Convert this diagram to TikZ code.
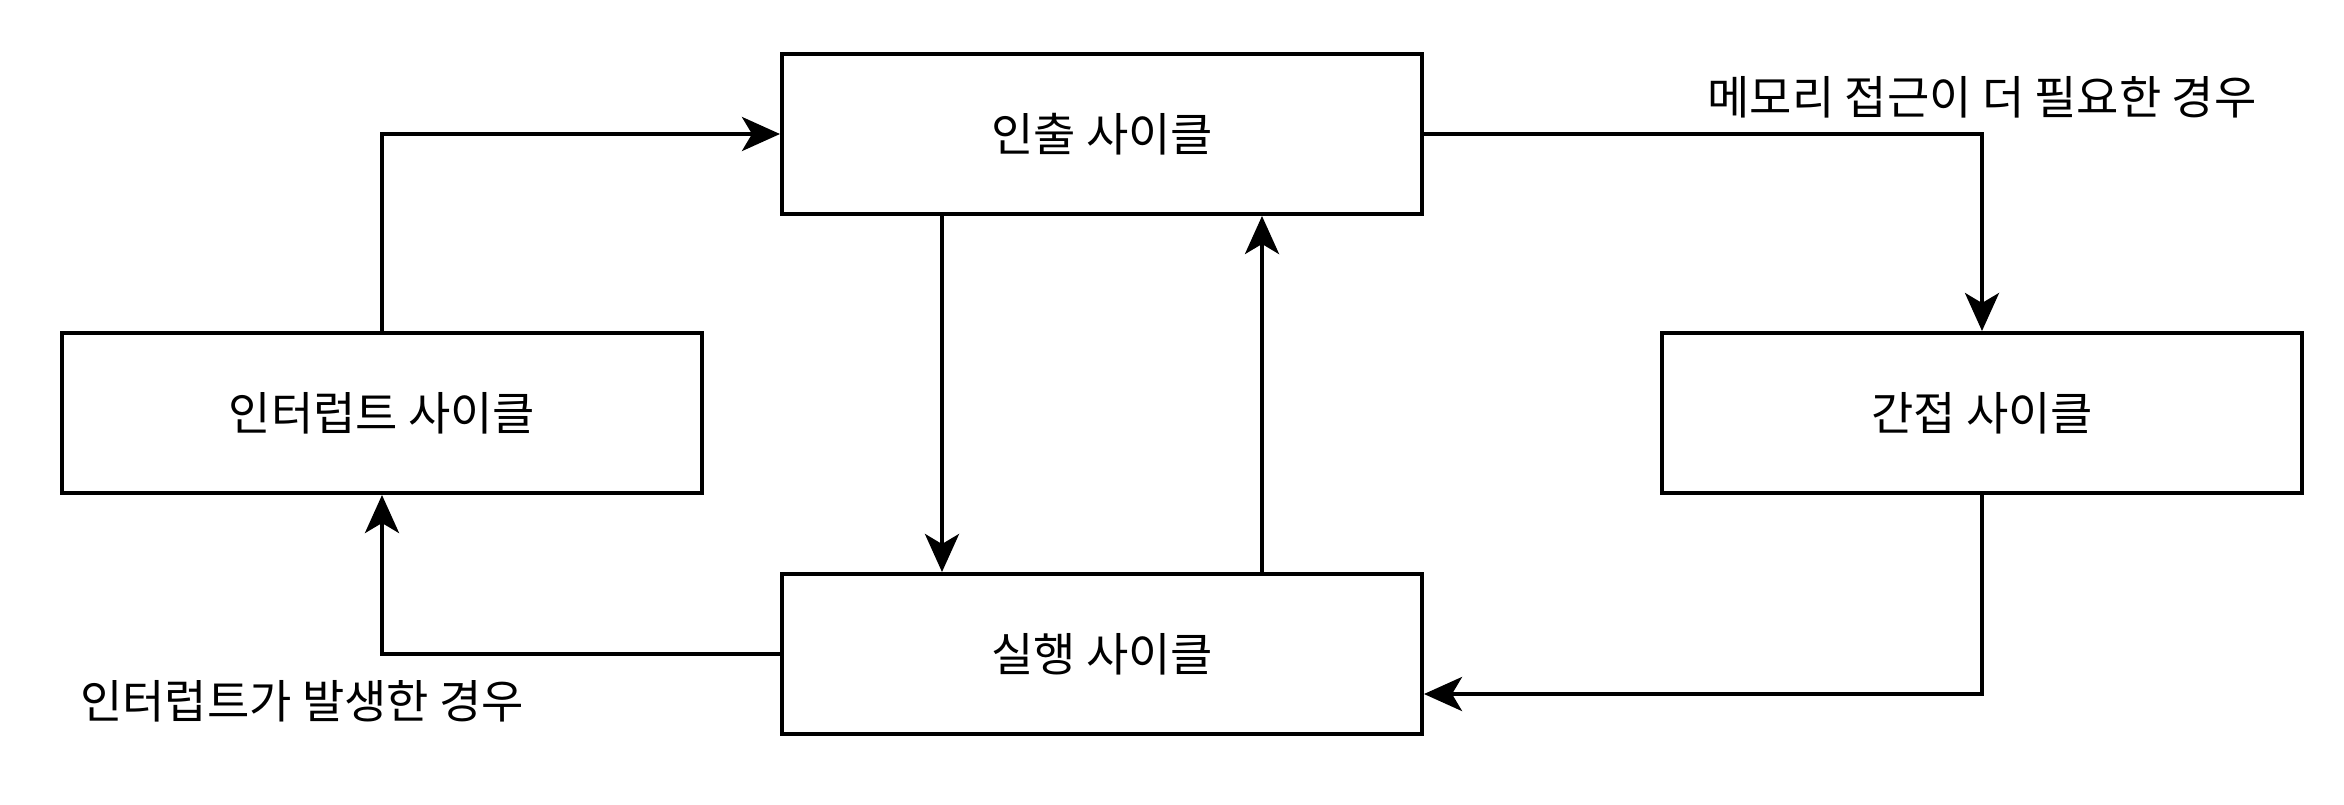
\documentclass[tikz,border=0pt]{standalone}
\usepackage{fontspec}
\setmainfont{Noto Sans CJK KR}
\usetikzlibrary{arrows.meta}
\begin{document}
\begin{tikzpicture}[x=0.5pt,y=-0.5pt,
  cyclebox/.style={draw,line width=2pt,minimum width=320pt,minimum height=80pt,inner sep=0pt,font=\fontsize{23}{27}\selectfont},
  lbl/.style={font=\fontsize{23}{27}\selectfont,inner sep=0pt},
  conn/.style={line width=2pt,-{Stealth[length=19pt,width=17pt,inset=5pt]}}]
\useasboundingbox (0,0) rectangle (2344,804);
\node[cyclebox] (fetch) at (1102,134) {인출 사이클};
\node[cyclebox] (intr) at (382,413) {인터럽트 사이클};
\node[cyclebox] (ind) at (1982,413) {간접 사이클};
\node[cyclebox] (exec) at (1102,654) {실행 사이클};
\node[lbl] (lmem) at (1982,97) {메모리 접근이 더 필요한 경우};
\node[lbl] (lint) at (302,701) {인터럽트가 발생한 경우};
\draw[conn] (intr.north) |- (fetch.west);
\draw[conn] (fetch.south -| 942,0) -- (exec.north -| 942,0);
\draw[conn] (exec.north -| 1262,0) -- (fetch.south -| 1262,0);
\draw[conn] (fetch.east) -| (ind.north);
\draw[conn] (ind.south) |- (exec.east |- 0,694);
\draw[conn] (exec.west) -| (intr.south);
\end{tikzpicture}
\end{document}
